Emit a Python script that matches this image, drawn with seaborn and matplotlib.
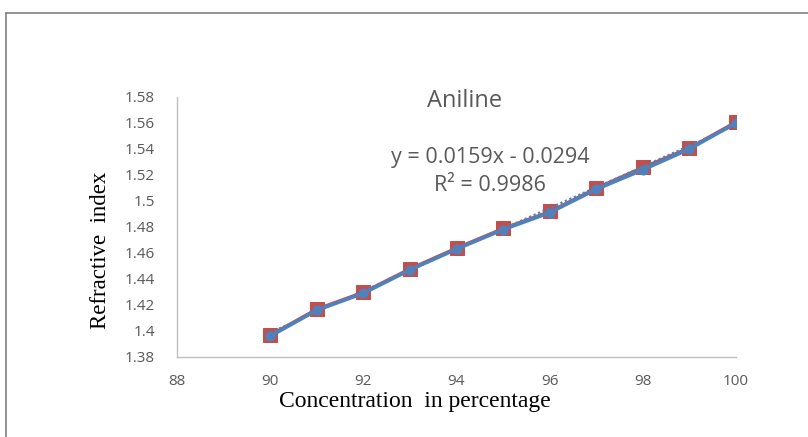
import matplotlib
matplotlib.use("Agg")
import matplotlib.pyplot as plt
import seaborn as sns
import pandas as pd
from matplotlib.ticker import FuncFormatter
from matplotlib.lines import Line2D

sns.set_theme(style="white")

concentration = [90, 91, 92, 93, 94, 95, 96, 97, 98, 99, 100]
refr_measured = [1.397, 1.417, 1.430, 1.448, 1.464, 1.479, 1.492, 1.510, 1.526, 1.541, 1.561]
refr_fitted = [1.396, 1.416, 1.429, 1.447, 1.463, 1.478, 1.491, 1.509, 1.524, 1.540, 1.560]
x_ticks = [88, 90, 92, 94, 96, 98, 100]
y_ticks = [1.38, 1.40, 1.42, 1.44, 1.46, 1.48, 1.50, 1.52, 1.54, 1.56, 1.58]

df = pd.DataFrame({"x": concentration, "m": refr_measured, "f": refr_fitted})

W, H = 808, 437
fig = plt.figure(figsize=(W / 100, H / 100), dpi=100)
ax = fig.add_axes([177/W, 1-357/H, (736-177)/W, (357-97)/H])

red = "#C0504D"
blue = "#4F81BD"

sns.lineplot(data=df, x="x", y="m", ax=ax, color=red, marker="s", markersize=10,
             markeredgecolor=red, linewidth=2, zorder=2)
sns.regplot(data=df, x="x", y="m", ax=ax, scatter=False, ci=None,
            line_kws=dict(color=blue, linestyle=(0, (1, 1.2)), linewidth=1.6, zorder=3))
sns.lineplot(data=df, x="x", y="f", ax=ax, color=blue, marker="o", markersize=6.5,
             markeredgecolor=blue, linewidth=2.6, zorder=4)

ax.set_xlim(88, 100)
ax.set_ylim(1.38, 1.58)
ax.set_xticks(x_ticks)
ax.set_yticks(y_ticks)
ax.yaxis.set_major_formatter(FuncFormatter(lambda v, p: f"{v:.2f}".rstrip("0")))
ax.tick_params(axis="y", labelsize=11, colors="#595959", length=0, pad=16)
ax.tick_params(axis="x", labelsize=11, colors="#595959", length=0, pad=12)
for lab in ax.get_xticklabels() + ax.get_yticklabels():
    lab.set_fontfamily("Open Sans")
ax.grid(False)
for s in ["top", "right"]:
    ax.spines[s].set_visible(False)
for s in ["left", "bottom"]:
    ax.spines[s].set_color("#BFBFBF")
    ax.spines[s].set_linewidth(1)

ax.set_xlabel("")
ax.set_ylabel("")
fig.text(415/W, 1-402/H, "Concentration  in percentage", fontfamily="Liberation Serif",
         fontsize=17, color="black", ha="center", va="center")
fig.text(100/W, 1-250/H, "Refractive  index", fontfamily="Liberation Serif",
         fontsize=16.5, color="black", ha="center", va="center", rotation=90)

fig.text(465/W, 1-101/H, "Aniline", ha="center", va="center",
         fontsize=17, color="#595959", fontfamily="Open Sans")
fig.text(490/W, 1-158/H, "y = 0.0159x - 0.0294", ha="center",
         va="center", fontsize=15.5, color="#595959", fontfamily="Open Sans")
fig.text(490/W, 1-186/H, "R² = 0.9986", ha="center",
         va="center", fontsize=15.5, color="#595959", fontfamily="Open Sans")

# outer frame
fig.add_artist(Line2D([6/W, 1], [1-13/H, 1-13/H], transform=fig.transFigure,
                      color="#7F7F7F", linewidth=1.2))
fig.add_artist(Line2D([6/W, 6/W], [0, 1-13/H], transform=fig.transFigure,
                      color="#7F7F7F", linewidth=1.2))

fig.savefig("out.png", dpi=100)
